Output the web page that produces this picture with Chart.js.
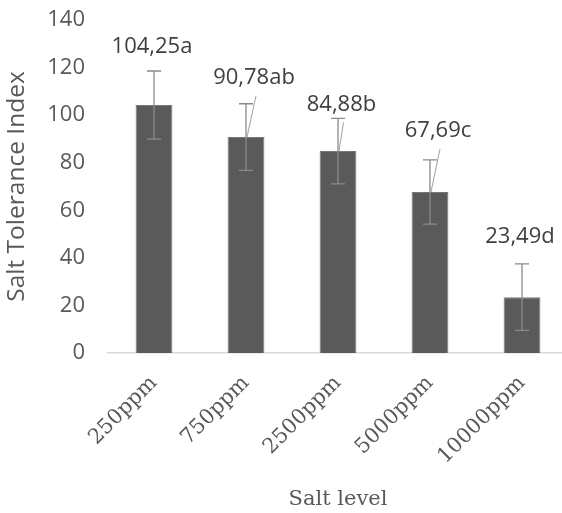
<!DOCTYPE html>
<html>
<head>
<meta charset="utf-8">
<script src="https://cdn.jsdelivr.net/npm/chart.js@4.4.1/dist/chart.umd.min.js"></script>
<style>
  html, body { margin: 0; padding: 0; background: #fff; overflow: hidden; }
  #wrap { width: 568px; height: 513px; }
</style>
</head>
<body>
<div id="wrap"><canvas id="chart" width="568" height="513"></canvas></div>
<script>
// Salt tolerance index per salt level, with standard deviation and significance letters
const saltLevels = ['250ppm', '750ppm', '2500ppm', '5000ppm', '10000ppm'];
const toleranceIndex = [104.25, 90.78, 84.88, 67.69, 23.49];
const stdDev = [14.3, 14.0, 13.8, 13.5, 14.0];
const groupLetters = ['a', 'ab', 'b', 'c', 'd'];
const yTickValues = [0, 20, 40, 60, 80, 100, 120, 140];

const SANS = '"Open Sans", "DejaVu Sans", sans-serif';
const SERIF = '"DejaVu Serif", serif';
const AXIS_TEXT = '#595959';

// Error bars plus value labels (some with leader lines back to the bar top)
const barAnnotations = {
  id: 'barAnnotations',
  afterDatasetsDraw(chart, args, opts) {
    const { ctx } = chart;
    const y = chart.scales.y;
    const meta = chart.getDatasetMeta(0);
    ctx.save();
    meta.data.forEach((bar, i) => {
      const v = toleranceIndex[i];
      const sd = stdDev[i];
      const x = bar.x;
      const yHi = y.getPixelForValue(v + sd);
      const yLo = y.getPixelForValue(v - sd);
      // error bar
      ctx.strokeStyle = opts.errColor;
      ctx.lineWidth = 1.3;
      ctx.beginPath();
      ctx.moveTo(x, yHi); ctx.lineTo(x, yLo);
      ctx.moveTo(x - opts.capHalf, yHi); ctx.lineTo(x + opts.capHalf, yHi);
      ctx.moveTo(x - opts.capHalf, yLo); ctx.lineTo(x + opts.capHalf, yLo);
      ctx.stroke();

      // value label
      const lx = x + opts.dx[i];
      const ly = yHi + opts.dy[i];
      const text = v.toFixed(2).replace('.', ',') + groupLetters[i];
      ctx.fillStyle = opts.labelColor;
      ctx.font = opts.font;
      ctx.textAlign = 'center';
      ctx.textBaseline = 'middle';
      ctx.fillText(text, lx, ly);

      if (opts.leader[i]) {
        ctx.strokeStyle = opts.leaderColor;
        ctx.lineWidth = 1;
        ctx.beginPath();
        ctx.moveTo(lx + 2, ly + 18);
        ctx.lineTo(x + 1, bar.y);
        ctx.stroke();
      }
    });
    ctx.restore();
  }
};

new Chart(document.getElementById('chart'), {
  type: 'bar',
  data: {
    labels: saltLevels,
    datasets: [{
      data: toleranceIndex,
      backgroundColor: '#5a5a5a',
      borderColor: '#767676',
      borderWidth: 1,
      categoryPercentage: 1,
      barPercentage: 0.4
    }]
  },
  options: {
    responsive: false,
    animation: false,
    events: [],
    layout: { padding: { top: 20, left: 0, right: 0, bottom: 0 } },
    plugins: {
      legend: { display: false },
      tooltip: { enabled: false },
      barAnnotations: {
        errColor: '#8a8a8a',
        leaderColor: '#a0a0a0',
        labelColor: '#404040',
        capHalf: 7,
        font: '22px ' + SANS,
        dx: [-2, 8, 3.5, 8, -2],
        dy: [-24, -26, -14, -29, -27],
        leader: [false, true, true, true, false]
      }
    },
    scales: {
      x: {
        offset: true,
        grid: { display: false, drawTicks: false },
        border: { display: true, color: '#d9d9d9', width: 1.5 },
        ticks: {
          color: AXIS_TEXT,
          font: { family: SERIF, size: 21 },
          minRotation: 45,
          maxRotation: 45,
          padding: 18
        },
        title: {
          display: true,
          text: 'Salt level',
          color: AXIS_TEXT,
          font: { family: SERIF, size: 21 },
          padding: { top: 0, bottom: 1 }
        },
        afterFit(scale) { scale.height = 160; }
      },
      y: {
        min: 0,
        max: 140,
        grid: { display: false, drawTicks: false },
        border: { display: false },
        afterBuildTicks(scale) { scale.ticks = yTickValues.map(v => ({ value: v })); },
        ticks: {
          color: AXIS_TEXT,
          font: { family: SANS, size: 22 },
          padding: 23
        },
        title: {
          display: true,
          text: 'Salt Tolerance Index',
          color: AXIS_TEXT,
          font: { family: SANS, size: 24.5 },
          padding: { top: 2, bottom: 0 }
        },
        afterFit(scale) {
          scale.width = 108;
          scale.paddingTop = 0;
          scale.paddingBottom = 0;
        }
      }
    }
  },
  plugins: [barAnnotations]
});
</script>
</body>
</html>
